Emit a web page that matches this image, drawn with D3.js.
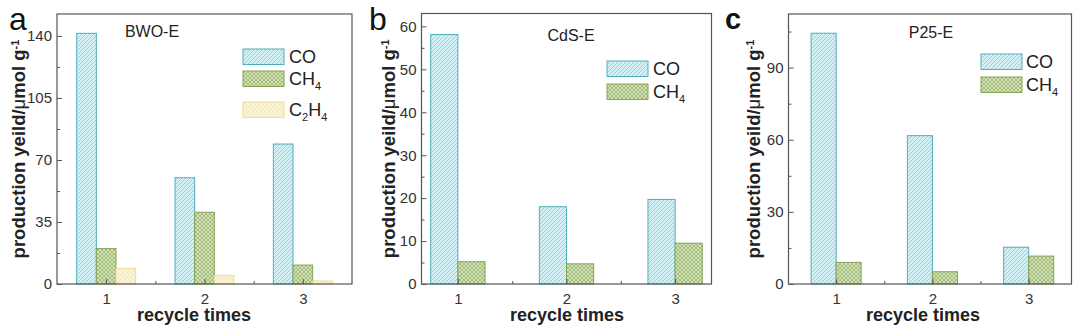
<!DOCTYPE html>
<html>
<head>
<meta charset="utf-8">
<script src="https://cdn.jsdelivr.net/npm/d3@7"></script>
<style>
  body { margin:0; background:#fff; }
  svg { display:block; font-family:"Liberation Sans", Arial, sans-serif; }
  .tick text { fill:#333; font-size:15px; }
  .tick line { stroke:#555; }
</style>
</head>
<body>
<svg id="chart" width="1080" height="329"></svg>
<script>
// values
var cycles = [1, 2, 3];

var bwoCO = [141.5, 60, 79];
var bwoCH4 = [20, 40.5, 10.7];
var bwoC2H4 = [8.8, 4.9, 1.7];

var cdsCO = [58.1, 18, 19.7];
var cdsCH4 = [5.2, 4.7, 9.5];

var p25CO = [104.3, 61.7, 15.3];
var p25CH4 = [9, 5.1, 11.6];

var bwoTicks = [0, 35, 70, 105, 140];
var cdsTicks = [0, 10, 20, 30, 40, 50, 60];
var p25Ticks = [0, 30, 60, 90];

var svg = d3.select("#chart");
var defs = svg.append("defs");

// hatch patterns
function hatch(id, bg, line, dir){
    var p = defs.append("pattern")
        .attr("id", id)
        .attr("patternUnits", "userSpaceOnUse")
        .attr("width", 4).attr("height", 4);
    p.append("rect").attr("width", 4).attr("height", 4).attr("fill", bg);
    if (dir == "cross"){
        p.append("path").attr("d", "M0,4 L4,0 M-1,1 L1,-1 M3,5 L5,3")
            .attr("stroke", line).attr("stroke-width", 0.7);
        p.append("path").attr("d", "M0,0 L4,4 M-1,3 L1,5 M3,-1 L5,1")
            .attr("stroke", line).attr("stroke-width", 0.7);
    } else {
        p.append("path").attr("d", "M0,4 L4,0 M-1,1 L1,-1 M3,5 L5,3")
            .attr("stroke", line).attr("stroke-width", 0.8);
    }
}
hatch("hCO", "#d3f0f5", "#86cad6", "diag");
hatch("hCH4", "#d2e2b6", "#93ad68", "cross");
hatch("hC2H4", "#fbf3d2", "#f0e0a4", "diag");

var styles = {
    CO:   {fill:"url(#hCO)", stroke:"#4fadbd"},
    CH4:  {fill:"url(#hCH4)", stroke:"#86a356"},
    C2H4: {fill:"url(#hC2H4)", stroke:"#eedc98"}
};

var panels = [
    {letter:"a", letterX:9, letterY:30, letterFont:"32px 'Liberation Sans'",
     left:57, right:352, top:14, bottom:284, xDom:[0.5,3.5], yMax:152.4,
     ticks:bwoTicks, minor:17.5, barW:0.2, title:"BWO-E", titleX:152, titleY:37,
     labelX:18, xLabelX:194,
     series:[{key:"CO", values:bwoCO}, {key:"CH4", values:bwoCH4}, {key:"C2H4", values:bwoC2H4}],
     legX:243, legY:[49,71,102], legText:289},
    {letter:"b", letterX:369, letterY:30, letterFont:"32px 'Liberation Sans'",
     left:421.5, right:711.5, top:13.5, bottom:284, xDom:[0.665,3.335], yMax:63,
     ticks:cdsTicks, minor:5, barW:0.25, title:"CdS-E", titleX:571, titleY:41,
     labelX:388, xLabelX:567,
     series:[{key:"CO", values:cdsCO}, {key:"CH4", values:cdsCH4}],
     legX:607, legY:[61,84], legText:653},
    {letter:"c", letterX:725, letterY:29, letterFont:"bold 29px 'Liberation Sans'",
     left:788.5, right:1071.5, top:14, bottom:284, xDom:[0.505,3.445], yMax:112.3,
     ticks:p25Ticks, minor:15, barW:0.26, title:"P25-E", titleX:931, titleY:38,
     labelX:753, xLabelX:923,
     series:[{key:"CO", values:p25CO}, {key:"CH4", values:p25CH4}],
     legX:981, legY:[54,77], legText:1026}
];

panels.forEach(drawPanel);

function drawPanel(p){
    var g = svg.append("g");
    var x = d3.scaleLinear().domain(p.xDom).range([p.left, p.right]);
    var y = d3.scaleLinear().domain([0, p.yMax]).range([p.bottom, p.top]);
    var n = p.series.length;

    //bars
    p.series.forEach(function(s, i){
        var off = (i - n/2) * p.barW;
        g.append("g").selectAll("rect")
            .data(s.values)
            .enter()
            .append("rect")
            .attr("x", (d, j) => x(cycles[j] + off))
            .attr("width", x(p.xDom[0] + p.barW) - x(p.xDom[0]))
            .attr("y", d => y(d))
            .attr("height", d => y(0) - y(d))
            .attr("fill", styles[s.key].fill)
            .attr("stroke", styles[s.key].stroke)
            .attr("stroke-width", 1);
    });

    //frame
    g.append("rect")
        .attr("x", p.left).attr("y", p.top)
        .attr("width", p.right - p.left).attr("height", p.bottom - p.top)
        .attr("fill", "none").attr("stroke", "#555").attr("stroke-width", 1.2);

    //axes, ticks pointing in
    var yAxis = g.append("g")
        .attr("transform", "translate(" + p.left + ",0)")
        .call(d3.axisLeft(y).tickValues(p.ticks).tickSize(-5).tickSizeOuter(0).tickPadding(5));
    yAxis.select(".domain").remove();

    var minorY = d3.range(p.minor, p.yMax, p.minor * 2);
    var yMinor = g.append("g")
        .attr("transform", "translate(" + p.left + ",0)")
        .call(d3.axisLeft(y).tickValues(minorY).tickSize(-3).tickFormat(""));
    yMinor.select(".domain").remove();

    var xAxis = g.append("g")
        .attr("transform", "translate(0," + p.bottom + ")")
        .call(d3.axisBottom(x).tickValues(cycles).tickSize(-5).tickSizeOuter(0).tickPadding(6)
            .tickFormat(d3.format("d")));
    xAxis.select(".domain").remove();
    xAxis.selectAll(".tick text").attr("dy", "0.9em");

    var xMinor = g.append("g")
        .attr("transform", "translate(0," + p.bottom + ")")
        .call(d3.axisBottom(x).tickValues([1.5, 2.5]).tickSize(-3).tickFormat(""));
    xMinor.select(".domain").remove();

    //axis titles
    g.append("text")
        .attr("x", p.xLabelX)
        .attr("y", 321)
        .attr("text-anchor", "middle")
        .style("font-weight", "bold")
        .style("font-size", "18px")
        .attr("fill", "#222")
        .text("recycle times");

    var yl = g.append("text")
        .attr("transform", "translate(" + (p.labelX + 7) + "," + ((p.top + p.bottom) / 2) + ") rotate(-90)")
        .attr("text-anchor", "middle")
        .style("font-weight", "bold")
        .style("font-size", "18.5px")
        .attr("fill", "#222");
    yl.append("tspan").text("production yeild/");
    yl.append("tspan").style("font-weight", "normal").text("μ");
    yl.append("tspan").text("mol g");
    yl.append("tspan").attr("dy", "-0.55em").style("font-size", "11px").text("-1");

    //panel title
    g.append("text")
        .attr("x", p.titleX).attr("y", p.titleY)
        .attr("text-anchor", "middle")
        .style("font-size", "16px")
        .attr("fill", "#222")
        .text(p.title);

    //panel letter
    g.append("text")
        .attr("x", p.letterX).attr("y", p.letterY)
        .style("font", p.letterFont)
        .attr("fill", "#111")
        .text(p.letter);

    //legend
    p.series.forEach(function(s, i){
        var ly = p.legY[i];
        g.append("rect")
            .attr("x", p.legX).attr("y", ly)
            .attr("width", 41).attr("height", 15.5)
            .attr("fill", styles[s.key].fill)
            .attr("stroke", styles[s.key].stroke);
        var t = g.append("text")
            .attr("x", p.legText).attr("y", ly + 14)
            .style("font-size", "18px")
            .attr("fill", "#222");
        if (s.key == "CO") {
            t.text("CO");
        } else if (s.key == "CH4") {
            t.append("tspan").text("CH");
            t.append("tspan").attr("dy", 5).style("font-size", "11px").text("4");
        } else {
            t.append("tspan").text("C");
            t.append("tspan").attr("dy", 5).style("font-size", "11px").text("2");
            t.append("tspan").attr("dy", -5).text("H");
            t.append("tspan").attr("dy", 5).style("font-size", "11px").text("4");
        }
    });
}
</script>
</body>
</html>
